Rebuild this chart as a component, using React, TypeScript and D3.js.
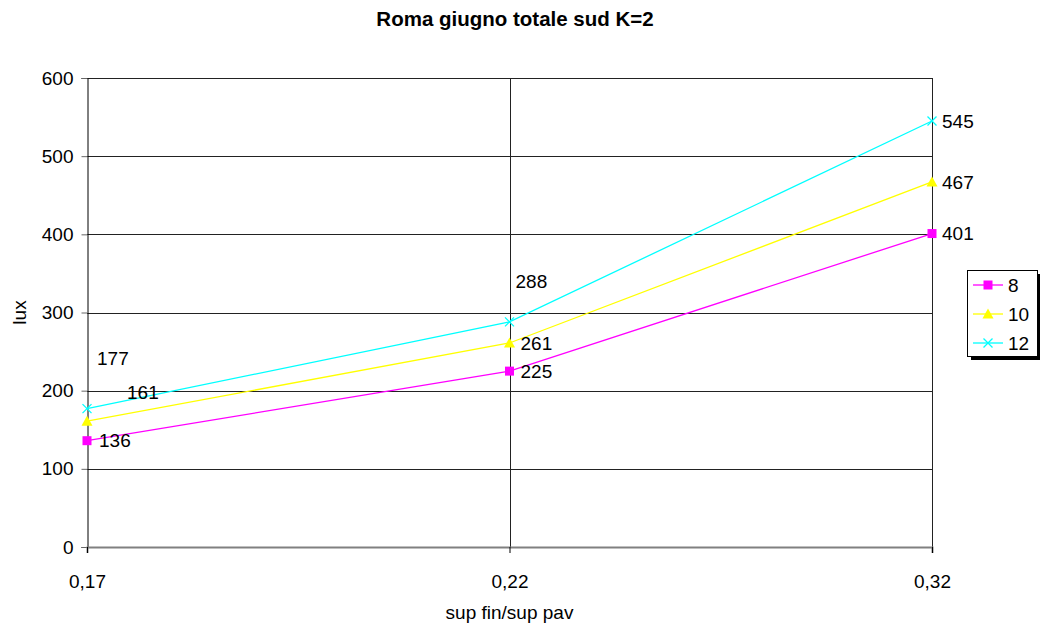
import React, {useEffect, useRef} from 'react';
import * as d3 from 'd3';

// categories on the x axis (sup fin / sup pav)
const categories = ['0,17', '0,22', '0,32'];
// series names (hours)
const seriesNames = ['8', '10', '12'];
// lux values for each series
const values8 = [136, 225, 401];
const values10 = [161, 261, 467];
const values12 = [177, 288, 545];
const yTicks = [0, 100, 200, 300, 400, 500, 600];

const colors = ['#ff00ff', '#ffff00', '#00ffff'];
const markers = ['square', 'triangle', 'cross'];

// label offsets (dx, dy) relative to each point, as in the original chart
const labelOffsets = [
  [[12, 0], [11, 0], [10, 0]],
  [[40, -29], [11, 0], [10, 0]],
  [[10, -50], [6, -41], [10, 0]],
];

const width = 1040;
const height = 628;
const margin = {top: 78, right: 108, bottom: 81, left: 87};
const font = 'Arial, "Liberation Sans", sans-serif';
const fs = 19;

function drawMarker(g: any, type: string, x: number, y: number, color: string) {
  if (type === 'square') {
    g.append('rect')
      .attr('x', x - 4.5)
      .attr('y', y - 4.5)
      .attr('width', 9)
      .attr('height', 9)
      .attr('fill', color);
  } else if (type === 'triangle') {
    g.append('path')
      .attr('d', `M${x},${y - 5.5}L${x + 5.5},${y + 4.5}L${x - 5.5},${y + 4.5}Z`)
      .attr('fill', color);
  } else {
    g.append('path')
      .attr('d', `M${x - 4.5},${y - 4.5}L${x + 4.5},${y + 4.5}M${x - 4.5},${y + 4.5}L${x + 4.5},${y - 4.5}`)
      .attr('stroke', color)
      .attr('stroke-width', 1.3)
      .attr('fill', 'none');
  }
}

const App: React.FC = () => {
  const svgRef = useRef<SVGSVGElement>(null);

  useEffect(() => {
    const svg = d3.select(svgRef.current);
    svg.selectAll('*').remove();

    const series = [values8, values10, values12];
    const innerW = width - margin.left - margin.right;
    const innerH = height - margin.top - margin.bottom;

    const x = d3.scalePoint().domain(categories).range([0, innerW]);
    const y = d3.scaleLinear().domain([0, 600]).range([innerH, 0]);

    svg.append('rect').attr('width', width).attr('height', height).attr('fill', '#fff');

    // title
    svg
      .append('text')
      .attr('x', 515)
      .attr('y', 26)
      .attr('text-anchor', 'middle')
      .attr('font-family', font)
      .attr('font-size', 20.5)
      .attr('font-weight', 'bold')
      .text('Roma giugno totale sud K=2');

    const g = svg.append('g').attr('transform', `translate(${margin.left},${margin.top})`);

    // horizontal gridlines
    g.selectAll('.hgrid')
      .data(yTicks.filter((d) => d > 0))
      .enter()
      .append('line')
      .attr('x1', 0)
      .attr('x2', innerW)
      .attr('y1', (d) => Math.round(y(d)) + 0.5)
      .attr('y2', (d) => Math.round(y(d)) + 0.5)
      .attr('stroke', '#222')
      .attr('stroke-width', 1);

    // vertical gridlines
    g.selectAll('.vgrid')
      .data(categories.slice(1))
      .enter()
      .append('line')
      .attr('x1', (d) => Math.round(x(d)) + 0.5)
      .attr('x2', (d) => Math.round(x(d)) + 0.5)
      .attr('y1', 0)
      .attr('y2', innerH)
      .attr('stroke', '#222')
      .attr('stroke-width', 1);

    // y axis
    const yAxis = d3.axisLeft(y).tickValues(yTicks).tickSize(6).tickPadding(8);
    const ya = g.append('g').attr('transform', 'translate(0.5,0)').call(yAxis);
    ya.select('.domain').attr('stroke', '#000');
    ya.selectAll('.tick line').attr('stroke', '#666');
    ya.selectAll('text').attr('font-family', font).attr('font-size', fs).attr('fill', '#000');

    // x axis
    const xAxis = d3.axisBottom(x).tickSize(6).tickPadding(22);
    const xa = g.append('g').attr('transform', `translate(0,${innerH})`).call(xAxis);
    xa.select('.domain').attr('stroke', '#808080').attr('stroke-width', 2);
    xa.selectAll('.tick line').attr('stroke', '#000');
    xa.selectAll('text').attr('font-family', font).attr('font-size', fs).attr('fill', '#000');

    // axis titles
    svg
      .append('text')
      .attr('transform', `translate(26,${margin.top + innerH / 2}) rotate(-90)`)
      .attr('text-anchor', 'middle')
      .attr('font-family', font)
      .attr('font-size', fs)
      .text('lux');
    svg
      .append('text')
      .attr('x', margin.left + innerW / 2)
      .attr('y', 619)
      .attr('text-anchor', 'middle')
      .attr('font-family', font)
      .attr('font-size', fs)
      .text('sup fin/sup pav');

    // lines, markers and labels
    const line = d3
      .line<number>()
      .x((d, i) => x(categories[i]))
      .y((d) => y(d));

    series.forEach((vals, s) => {
      g.append('path')
        .datum(vals)
        .attr('d', line)
        .attr('fill', 'none')
        .attr('stroke', colors[s])
        .attr('stroke-width', 1.3);
      vals.forEach((v, i) => {
        drawMarker(g, markers[s], x(categories[i]), y(v), colors[s]);
      });
    });
    series.forEach((vals, s) => {
      vals.forEach((v, i) => {
        const [dx, dy] = labelOffsets[s][i];
        g.append('text')
          .attr('x', x(categories[i]) + dx)
          .attr('y', y(v) + dy)
          .attr('dy', '0.35em')
          .attr('font-family', font)
          .attr('font-size', fs)
          .text(v);
      });
    });

    // legend
    const lx = 967;
    const ly = 270;
    svg.append('rect').attr('x', lx + 4).attr('y', ly + 4).attr('width', 70).attr('height', 86).attr('fill', '#000');
    svg
      .append('rect')
      .attr('x', lx + 0.5)
      .attr('y', ly + 0.5)
      .attr('width', 70)
      .attr('height', 86)
      .attr('fill', '#fff')
      .attr('stroke', '#000');
    seriesNames.forEach((name, s) => {
      const cy = ly + 15 + s * 29;
      const lg = svg.append('g');
      lg.append('line')
        .attr('x1', lx + 6)
        .attr('x2', lx + 36)
        .attr('y1', cy)
        .attr('y2', cy)
        .attr('stroke', colors[s])
        .attr('stroke-width', 1.3);
      drawMarker(lg, markers[s], lx + 21, cy, colors[s]);
      lg.append('text')
        .attr('x', lx + 41)
        .attr('y', cy)
        .attr('dy', '0.35em')
        .attr('font-family', font)
        .attr('font-size', fs)
        .text(name);
    });
  }, []);

  return <svg ref={svgRef} width={width} height={height} style={{position: 'absolute', left: 0, top: 0}} />;
};

export default App;
